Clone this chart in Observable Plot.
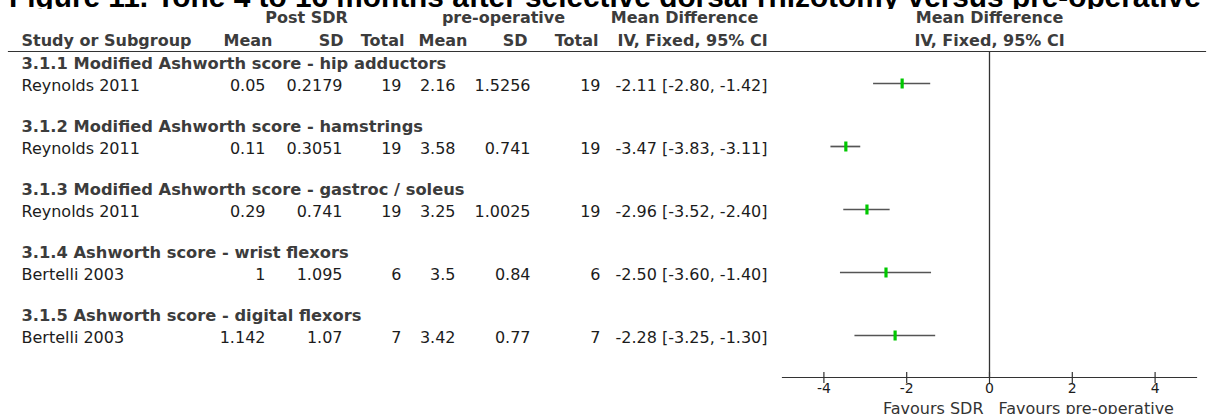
<!DOCTYPE html>
<html><head><meta charset="utf-8">
<script src="https://cdn.jsdelivr.net/npm/d3@7"></script>
<script src="https://cdn.jsdelivr.net/npm/@observablehq/plot@0.6"></script>
<style>
body{margin:0;background:#fff;}
#wrap{width:1210px;height:414px;overflow:hidden;position:relative;background:#fff;}
#title{height:9px;overflow:hidden;position:relative;}
#title span{position:absolute;left:9px;top:-9.3px;font:bold 29.8px "Liberation Sans",Arial,sans-serif;white-space:nowrap;line-height:12px;color:#000;}
#chart svg{display:block;}
</style></head><body>
<div id="wrap">
<div id="title"><span>Figure 11. Tone 4 to 16 months after selective dorsal rhizotomy versus pre-operative</span></div>
<div id="chart"></div>
</div>
<script>
// ---- data ----
const subgroups = [
  "3.1.1 Modified Ashworth score - hip adductors",
  "3.1.2 Modified Ashworth score - hamstrings",
  "3.1.3 Modified Ashworth score - gastroc / soleus",
  "3.1.4 Ashworth score - wrist flexors",
  "3.1.5 Ashworth score - digital flexors"
];
const studies = ["Reynolds 2011", "Reynolds 2011", "Reynolds 2011", "Bertelli 2003", "Bertelli 2003"];
const postMean = [0.05, 0.11, 0.29, 1, 1.142];
const postSD = [0.2179, 0.3051, 0.741, 1.095, 1.07];
const postTotal = [19, 19, 19, 6, 7];
const preMean = [2.16, 3.58, 3.25, 3.5, 3.42];
const preSD = [1.5256, 0.741, 1.0025, 0.84, 0.77];
const preTotal = [19, 19, 19, 6, 7];
const meanDiff = [-2.11, -3.47, -2.96, -2.50, -2.28];
const ciLow = [-2.80, -3.83, -3.52, -3.60, -3.25];
const ciHigh = [-1.42, -3.11, -2.40, -1.40, -1.30];
const xTicks = [-4, -2, 0, 2, 4];
const groupHeads = ["Post SDR", "pre-operative", "Mean Difference"];
const colHeads = ["Study or Subgroup", "Mean", "SD", "Total", "Mean", "SD", "Total", "IV, Fixed, 95% CI"];
const plotHeads = ["Mean Difference", "IV, Fixed, 95% CI"];
const favours = ["Favours SDR", "Favours pre-operative"];

// ---- table built from the arrays ----
const rows = studies.map((s, i) => ({
  i, study: s, subgroup: subgroups[i],
  postMean: String(postMean[i]), postSD: String(postSD[i]), postTotal: String(postTotal[i]),
  preMean: String(preMean[i]), preSD: String(preSD[i]), preTotal: String(preTotal[i]),
  ci: `${meanDiff[i].toFixed(2)} [${ciLow[i].toFixed(2)}, ${ciHigh[i].toFixed(2)}]`,
  md: meanDiff[i], lo: ciLow[i], hi: ciHigh[i]
}));

// ---- layout ----
const W = 1210, H = 405, ML = 782, MR = 14, MT = 42, MB = 37;
const colLayout = [
  {key: "study", x: 21, anchor: "start"},
  {key: "postMean", x: 265, anchor: "end"},
  {key: "postSD", x: 342, anchor: "end"},
  {key: "postTotal", x: 401, anchor: "end"},
  {key: "preMean", x: 455, anchor: "end"},
  {key: "preSD", x: 530, anchor: "end"},
  {key: "preTotal", x: 600, anchor: "end"},
  {key: "ci", x: 767, anchor: "end"}
];
const groupHeadLayout = [306, 503, 684];
const colHeadLayout = [[21, "start"], [272, "end"], [343, "end"], [404, "end"], [467, "end"], [527, "end"], [598, "end"], [692, "middle"]];
const txt = "#1c1c1c", hdr = "#3c3c3c";

const marks = [];
// table body
for (const c of colLayout) {
  marks.push(Plot.text(rows, {y: "i", text: c.key, frameAnchor: "left", dx: c.x - ML, dy: 7,
    textAnchor: c.anchor, lineAnchor: "bottom", fontSize: 16, fill: txt}));
}
marks.push(Plot.text(rows, {y: "i", text: "subgroup", frameAnchor: "left", dx: 21 - ML, dy: -15,
  textAnchor: "start", lineAnchor: "bottom", fontSize: 16.3, fontWeight: "bold", fill: hdr}));
// headers
groupHeads.forEach((t, k) => marks.push(Plot.text([t], {text: d => d, frameAnchor: "top-left",
  dx: groupHeadLayout[k] - ML, dy: -29, textAnchor: "middle", lineAnchor: "bottom", fontSize: 16, fontWeight: "bold", fill: hdr})));
colHeads.forEach((t, k) => marks.push(Plot.text([t], {text: d => d, frameAnchor: "top-left",
  dx: colHeadLayout[k][0] - ML, dy: -6, textAnchor: colHeadLayout[k][1], lineAnchor: "bottom", fontSize: 16, fontWeight: "bold", fill: hdr})));
marks.push(Plot.text([plotHeads[0]], {x: () => 0, text: d => d, frameAnchor: "top", dy: -29,
  textAnchor: "middle", lineAnchor: "bottom", fontSize: 16, fontWeight: "bold", fill: hdr}));
marks.push(Plot.text([plotHeads[1]], {x: () => 0, text: d => d, frameAnchor: "top", dy: -6,
  textAnchor: "middle", lineAnchor: "bottom", fontSize: 16, fontWeight: "bold", fill: hdr}));
// header rule across the table
marks.push(Plot.frame({anchor: "top", stroke: "#333", strokeWidth: 1.2, insetLeft: -(ML - 8), insetRight: -(MR - 5)}));
// forest plot
marks.push(Plot.ruleX([0], {stroke: "#333", strokeWidth: 1.3}));
marks.push(Plot.ruleY(rows, {y: "i", x1: "lo", x2: "hi", stroke: "#555", strokeWidth: 1.7}));
const bar = {draw(ctx) { ctx.rect(-1.6, -5, 3.2, 10); }};
marks.push(Plot.dot(rows, {x: "md", y: "i", symbol: bar, fill: "#00c800", stroke: "none"}));
// axis
marks.push(Plot.frame({anchor: "bottom", stroke: "#333", strokeWidth: 1.2}));
const vtick = {draw(ctx) { ctx.moveTo(0, -5.5); ctx.lineTo(0, 5.5); }};
marks.push(Plot.dot(xTicks, {x: d => d, frameAnchor: "bottom", symbol: vtick, stroke: "#333", fill: "none", strokeWidth: 1.2}));
marks.push(Plot.axisX({ticks: xTicks, tickSize: 0, tickPadding: 6, tickFormat: d => String(d), fontSize: 14, fill: txt}));
marks.push(Plot.text([favours[0]], {x: () => 0, text: d => d, frameAnchor: "bottom", dy: 36, dx: -6,
  textAnchor: "end", lineAnchor: "bottom", fontSize: 16, fill: "#333"}));
marks.push(Plot.text([favours[1]], {x: () => 0, text: d => d, frameAnchor: "bottom", dy: 36, dx: 9,
  textAnchor: "start", lineAnchor: "bottom", fontSize: 16, fill: "#333"}));

const svg = Plot.plot({
  width: W, height: H,
  marginLeft: ML, marginRight: MR, marginTop: MT, marginBottom: MB,
  x: {domain: [-5, 5], axis: null},
  y: {domain: [0, studies.length - 1], range: [74, 326], axis: null},
  style: {fontFamily: "'DejaVu Sans', sans-serif", fontSize: "15px", color: txt, background: "#fff", overflow: "visible"},
  marks
});
document.getElementById("chart").appendChild(svg);
</script>
</body></html>
